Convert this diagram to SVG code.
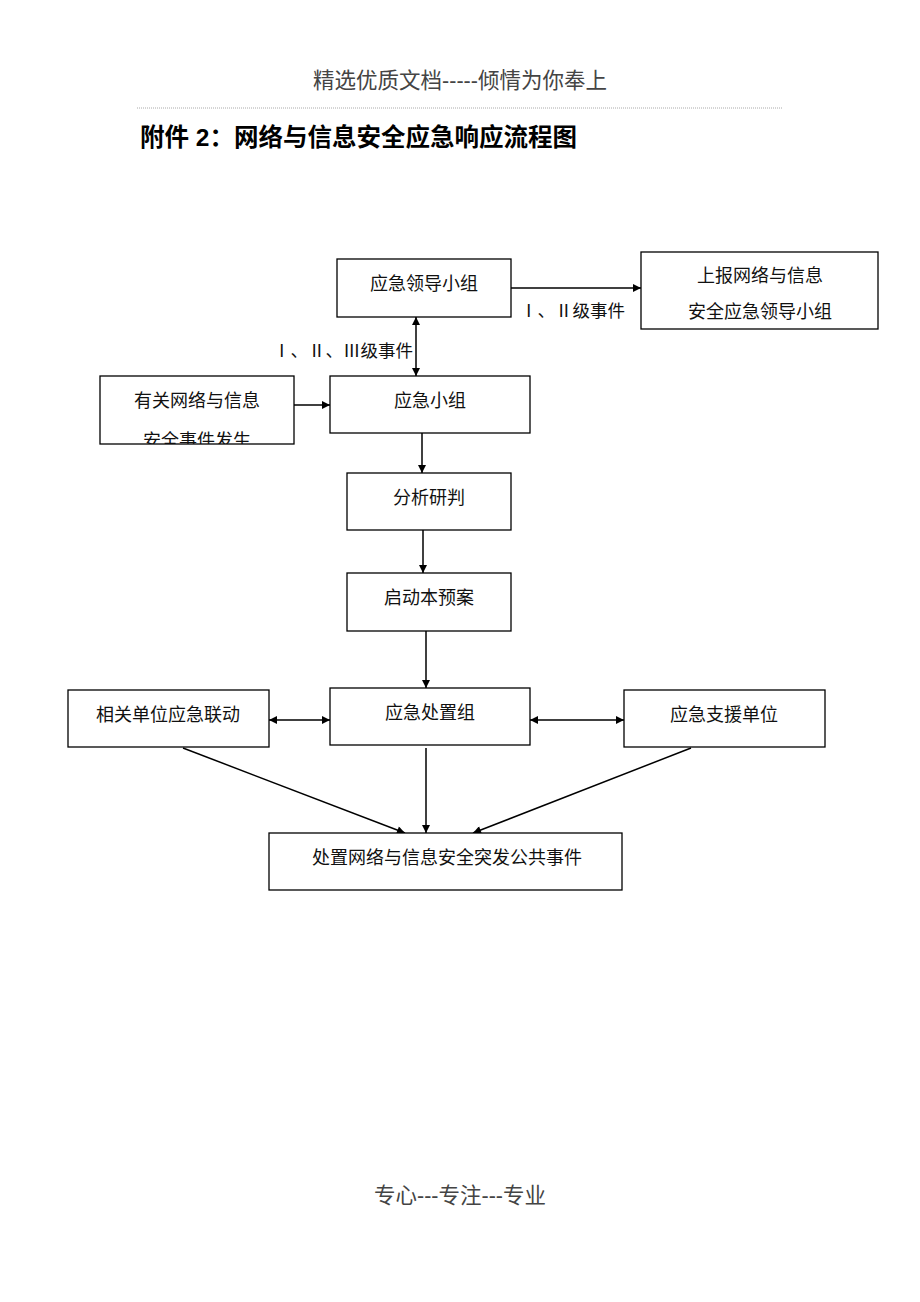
<svg xmlns="http://www.w3.org/2000/svg" width="920" height="1302" viewBox="0 0 920 1302">
<style>
.box{fill:#fff;stroke:#000;stroke-width:1.3}
.t{font-family:"Liberation Serif","Noto Sans CJK SC",serif;font-size:18px;fill:#111;text-anchor:middle}
.lbl{font-family:"Liberation Serif","Noto Sans CJK SC",serif;font-size:17.5px;fill:#111}
.c{stroke:#000;stroke-width:1.5;fill:none}
.hd{font-family:"Liberation Sans","Noto Sans CJK SC",sans-serif;font-size:21.5px;fill:#444;text-anchor:middle}
</style>
<defs>
<marker id="ah" viewBox="0 0 10 10" refX="10" refY="5" markerWidth="9" markerHeight="8" orient="auto-start-reverse" markerUnits="userSpaceOnUse"><path d="M0,0 L10,5 L0,10 z" fill="#000"/></marker>
<clipPath id="clipEv"><rect x="100" y="376" width="194" height="68"/></clipPath>
</defs>
<rect width="920" height="1302" fill="#fff"/>
<text class="hd" x="460" y="88">精选优质文档-----倾情为你奉上</text>
<line x1="137" y1="108" x2="783" y2="108" stroke="#aaa" stroke-width="1" stroke-dasharray="1,1"/>
<text x="140" y="146" font-family="Liberation Sans,'Noto Sans CJK SC',sans-serif" font-size="24.5" font-weight="bold" fill="#000">附件 2：网络与信息安全应急响应流程图</text>

<g id="connectors">
<line class="c" x1="511" y1="288" x2="641" y2="288" marker-end="url(#ah)"/>
<line class="c" x1="416" y1="317" x2="416" y2="376" marker-start="url(#ah)" marker-end="url(#ah)"/>
<line class="c" x1="294" y1="405" x2="330" y2="405" marker-end="url(#ah)"/>
<line class="c" x1="422" y1="433" x2="422" y2="473" marker-end="url(#ah)"/>
<line class="c" x1="423" y1="530" x2="423" y2="573" marker-end="url(#ah)"/>
<line class="c" x1="426" y1="631" x2="426" y2="688" marker-end="url(#ah)"/>
<line class="c" x1="269" y1="720" x2="330" y2="720" marker-start="url(#ah)" marker-end="url(#ah)"/>
<line class="c" x1="530" y1="720" x2="624" y2="720" marker-start="url(#ah)" marker-end="url(#ah)"/>
<line class="c" x1="183" y1="748" x2="405" y2="833" marker-end="url(#ah)"/>
<line class="c" x1="426" y1="748" x2="426" y2="833" marker-end="url(#ah)"/>
<line class="c" x1="691" y1="748" x2="473" y2="833" marker-end="url(#ah)"/>
<text class="lbl" x="520" y="317">Ⅰ、Ⅱ级事件</text>
<text class="lbl" x="413" y="357" text-anchor="end">Ⅰ、Ⅱ、Ⅲ级事件</text>
</g>

<g id="n-leader"><rect class="box" x="337" y="259" width="174" height="58"/><text class="t" x="424" y="290">应急领导小组</text></g>
<g id="n-report"><rect class="box" x="641" y="252" width="237" height="77"/><text class="t" x="760" y="282">上报网络与信息</text><text class="t" x="760" y="318">安全应急领导小组</text></g>
<g id="n-event"><rect class="box" x="100" y="376" width="194" height="68"/><g clip-path="url(#clipEv)"><text class="t" x="197" y="407">有关网络与信息</text><text class="t" x="197" y="447">安全事件发生</text></g></g>
<g id="n-group"><rect class="box" x="330" y="376" width="200" height="57"/><text class="t" x="430" y="407">应急小组</text></g>
<g id="n-analyze"><rect class="box" x="347" y="473" width="164" height="57"/><text class="t" x="429" y="504">分析研判</text></g>
<g id="n-start"><rect class="box" x="347" y="573" width="164" height="58"/><text class="t" x="429" y="604">启动本预案</text></g>
<g id="n-handle"><rect class="box" x="330" y="688" width="200" height="57"/><text class="t" x="430" y="719">应急处置组</text></g>
<g id="n-linkage"><rect class="box" x="68" y="690" width="201" height="57"/><text class="t" x="168" y="721">相关单位应急联动</text></g>
<g id="n-support"><rect class="box" x="624" y="690" width="201" height="57"/><text class="t" x="724" y="721">应急支援单位</text></g>
<g id="n-final"><rect class="box" x="269" y="833" width="353" height="57"/><text class="t" x="447" y="864">处置网络与信息安全突发公共事件</text></g>

<text class="hd" x="460" y="1203">专心---专注---专业</text>
</svg>
